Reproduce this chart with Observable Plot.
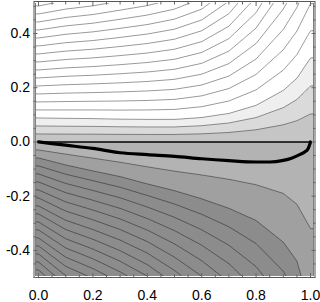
<!DOCTYPE html>
<html><head><meta charset="utf-8">
<script src="https://cdn.jsdelivr.net/npm/d3@7"></script>
<script src="https://cdn.jsdelivr.net/npm/@observablehq/plot@0.6"></script>
<style>body{margin:0;background:#fff}</style>
</head><body><div id="chart"></div>
<script>
// Column profiles (x columns)
const profileX   = [0, 0.1, 0.2, 0.3, 0.4, 0.5, 0.6, 0.7, 0.8, 0.9, 0.95, 1.0];
// height of contour level 3 (white / light band boundary)
const upperLevel3 = [0.0885, 0.087, 0.086, 0.084, 0.083, 0.083, 0.09, 0.105, 0.135, 0.19, 0.235, 0.31];
// spacing of contour levels above level 3
const upperStep  = [0.0295, 0.031, 0.032, 0.0335, 0.035, 0.037, 0.040, 0.046, 0.057, 0.075, 0.087, 0.1];
// depth of contour levels -1 and -2
const lowerLevel1 = [0.0295, 0.045, 0.06, 0.075, 0.092, 0.108, 0.122, 0.138, 0.158, 0.19, 0.23, 0.32];
const lowerLevel2 = [0.059, 0.085, 0.107, 0.128, 0.155, 0.18, 0.21, 0.245, 0.29, 0.37, 0.44, 0.62];
// spacing of contour levels below level -2
const lowerStep  = [0.0295, 0.034, 0.036, 0.039, 0.0425, 0.049, 0.057, 0.068, 0.085, 0.107, 0.13, 0.2];
// thick curve
const curveX = [0, 0.1, 0.2, 0.3, 0.4, 0.5, 0.6, 0.7, 0.8, 0.85, 0.9, 0.93, 0.96, 0.98, 0.99, 1.0];
const curveY = [0, -0.012, -0.024, -0.040, -0.047, -0.053, -0.062, -0.069, -0.074, -0.074, -0.068, -0.060, -0.047, -0.036, -0.027, 0];
const zeroLine = [0];
const xSpan = [0, 1];
const majorX = [0, 0.2, 0.4, 0.6, 0.8, 1.0];
const minorX = [0.05,0.1,0.15,0.25,0.3,0.35,0.45,0.5,0.55,0.65,0.7,0.75,0.85,0.9,0.95];
const majorY = [-0.4, -0.2, 0, 0.2, 0.4];
const minorY = [-0.5,-0.45,-0.35,-0.3,-0.25,-0.15,-0.1,-0.05,0.05,0.1,0.15,0.25,0.3,0.35,0.45,0.5];
const fillLevels = d3.range(-30, 31);
const lineLevels = d3.range(-25, 26).filter(k => k !== 0);
const bandGray = {"3": "#ffffff", "2": "#efefef", "1": "#dadada", "0": "#c5c5c5", "-1": "#b3b3b3", "-2": "#a0a0a0", "-3": "#8c8c8c"};
const bandColors = fillLevels.map(k => bandGray[String(Math.max(-3, Math.min(3, k)))]);

const prof = arr => d3.scaleLinear(profileX, arr).clamp(true);
const h3 = prof(upperLevel3), aH = prof(upperStep);
const d1 = prof(lowerLevel1), d2 = prof(lowerLevel2), sL = prof(lowerStep);
function field(x, y) {
  if (y >= 0) {
    const h = h3(x);
    return y <= h ? 3 * y / h : 3 + (y - h) / aH(x);
  }
  const z = -y, a = d1(x), b = d2(x);
  if (z <= a) return -z / a;
  if (z <= b) return -1 - (z - a) / (b - a);
  return -2 - (z - b) / sL(x);
}
const fmt = d => d.toFixed(1);
const tickStroke = "#666";
const box = {x1: -0.011, x2: 1.011, y1: -0.4965, y2: 0.5145, pixelSize: 1};

const chart = Plot.plot({
  width: 320, height: 302,
  marginLeft: 33.5, marginRight: 5.5, marginTop: 1, marginBottom: 25,
  style: {fontFamily: "'Liberation Sans', Arial, sans-serif", fontSize: "14px", background: "#fff"},
  x: {domain: [-0.0165, 1.0165]},
  y: {domain: [-0.5, 0.518]},
  color: {type: "ordinal", domain: fillLevels, range: bandColors},
  marks: [
    Plot.contour({value: field, fill: "value", stroke: "none", thresholds: fillLevels, ...box}),
    Plot.contour({value: field, stroke: "#000", strokeOpacity: 0.5, strokeWidth: 0.8, fill: "none",
      thresholds: lineLevels, ...box}),
    Plot.ruleY(zeroLine, {x1: xSpan[0], x2: xSpan[1], stroke: "#000", strokeWidth: 1.4}),
    Plot.line(curveX.map((x, i) => ({x, y: curveY[i]})), {x: "x", y: "y", curve: "monotone-x", stroke: "#000", strokeWidth: 3.2}),
    Plot.frame({stroke: "#fff", strokeWidth: 3}),
    Plot.frame({stroke: "#555", strokeWidth: 1}),
    Plot.axisX(majorX, {anchor: "bottom", tickSize: -4, tickFormat: () => "", stroke: tickStroke, label: null}),
    Plot.axisX(minorX, {anchor: "bottom", tickSize: -2.5, tickFormat: () => "", stroke: tickStroke, label: null}),
    Plot.axisX(majorX, {anchor: "top", tickSize: -4, tickFormat: () => "", stroke: tickStroke, label: null}),
    Plot.axisX(minorX, {anchor: "top", tickSize: -2.5, tickFormat: () => "", stroke: tickStroke, label: null}),
    Plot.axisY(majorY, {anchor: "left", tickSize: -4, tickFormat: () => "", stroke: tickStroke, label: null}),
    Plot.axisY(minorY, {anchor: "left", tickSize: -2.5, tickFormat: () => "", stroke: tickStroke, label: null}),
    Plot.axisY(majorY, {anchor: "right", tickSize: -4, tickFormat: () => "", stroke: tickStroke, label: null}),
    Plot.axisY(minorY, {anchor: "right", tickSize: -2.5, tickFormat: () => "", stroke: tickStroke, label: null}),
    Plot.axisX(majorX, {anchor: "bottom", tickSize: 0, tickPadding: 13, tickFormat: fmt, fill: "#000", fontSize: 14, label: null}),
    Plot.axisY(majorY, {anchor: "left", tickSize: 0, tickPadding: 4, tickFormat: fmt, fill: "#000", fontSize: 14, label: null})
  ]
});
document.getElementById("chart").appendChild(chart);
</script>
</body></html>
